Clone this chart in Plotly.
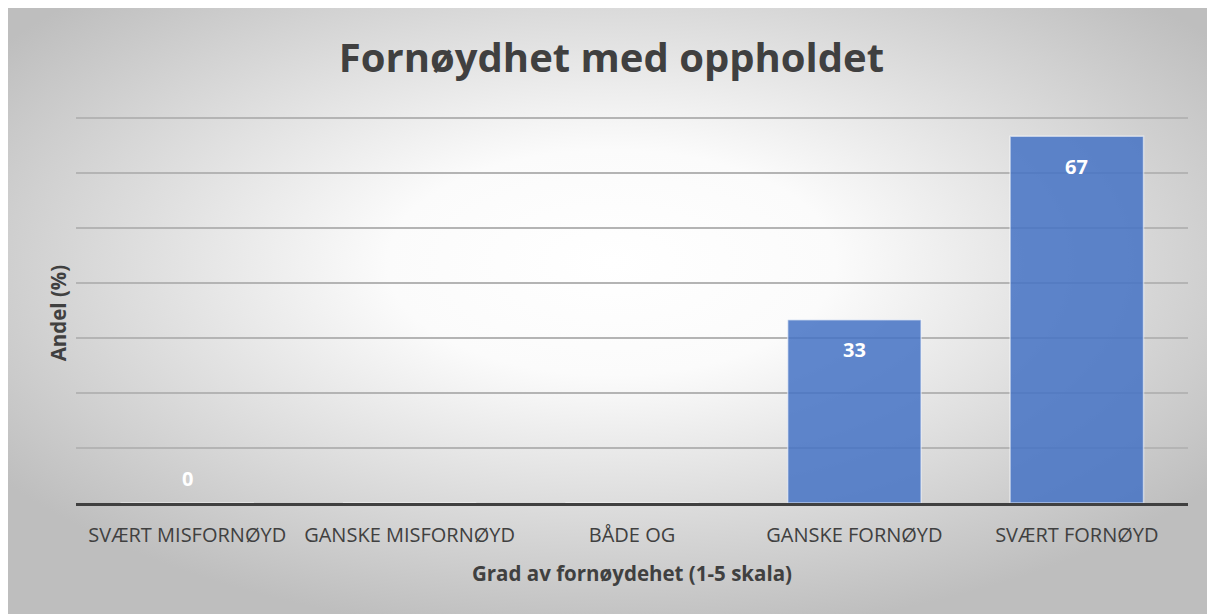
import base64
import plotly.graph_objects as go

# Data
categories = ['SVÆRT MISFORNØYD', 'GANSKE MISFORNØYD', 'BÅDE OG',
              'GANSKE FORNØYD', 'SVÆRT FORNØYD']
shares = [0, 0, 0, 33.33, 66.67]
labels = ['0', '', '', '33', '67']

title = 'Fornøydhet med oppholdet'
x_title = 'Grad av fornøydehet (1-5 skala)'
y_title = 'Andel (%)'

FONT = 'Open Sans'
TXT = '#404040'

# page body has an 8px margin, so the figure is a bit smaller than the window
W, H = 1207, 606
ml, mr, mt, mb = 68, 27, 108, 111
pw, ph = W - ml - mr, H - mt - mb

# Radial gradient background for the chart panel (Excel style)
svg = (
    '<svg xmlns="http://www.w3.org/2000/svg" width="%d" height="%d" '
    'preserveAspectRatio="none" viewBox="0 0 %d %d">'
    '<defs><radialGradient id="g" cx="0.5" cy="0.42" r="0.62">'
    '<stop offset="0" stop-color="#ffffff"/>'
    '<stop offset="0.3" stop-color="#fbfbfb"/>'
    '<stop offset="1" stop-color="#bebebe"/>'
    '</radialGradient></defs>'
    '<rect width="%d" height="%d" fill="url(#g)"/></svg>'
) % (W, H, W, H, W, H)
bg_src = 'data:image/svg+xml;base64,' + base64.b64encode(svg.encode()).decode()

fig = go.Figure()
fig.add_trace(go.Bar(
    x=categories, y=shares,
    width=0.6,
    marker=dict(color='rgba(68,114,196,0.85)',
                line=dict(color='rgba(255,255,255,0.55)', width=1.5)),
    hoverinfo='skip',
))

# data labels, inside end (zero label sits just above the baseline)
for cat, v, lab in zip(categories, shares, labels):
    if not lab:
        continue
    fig.add_annotation(
        x=cat, y=v, text='<b>%s</b>' % lab, showarrow=False,
        yshift=-30 if v > 0 else 25,
        font=dict(family=FONT, size=20, color='white'),
    )

# y axis title, placed a little closer to the plot than plotly would
fig.add_annotation(
    xref='paper', yref='paper', x=-18 / pw, y=0.49,
    xanchor='center', yanchor='middle',
    text='<b>%s</b>' % y_title, textangle=-90, showarrow=False,
    font=dict(family=FONT, size=20.5, color=TXT),
)

fig.update_layout(
    width=W, height=H,
    margin=dict(l=ml, r=mr, t=mt, b=mb),
    paper_bgcolor='#c8c8c8',
    plot_bgcolor='rgba(0,0,0,0)',
    showlegend=False,
    title=dict(text='<b>%s</b>' % title, x=0.5, xanchor='center',
               y=1 - 50 / H, yanchor='middle',
               font=dict(family=FONT, size=40, color=TXT)),
    xaxis=dict(
        tickfont=dict(family=FONT, size=20, color=TXT),
        ticklabelstandoff=12,
        title=dict(text='<b>%s</b>' % x_title, standoff=20,
                   font=dict(family=FONT, size=20.5, color=TXT)),
        showline=True, linecolor=TXT, linewidth=3,
        ticks='', showgrid=False,
    ),
    yaxis=dict(
        range=[0, 70.35], tick0=0, dtick=10, showticklabels=False,
        gridcolor='#b4b4b4', gridwidth=1.5, zeroline=False,
    ),
    images=[dict(
        source=bg_src, xref='paper', yref='paper',
        x=-ml / pw, y=1 + mt / ph,
        sizex=W / pw, sizey=H / ph,
        xanchor='left', yanchor='top', sizing='stretch', layer='below',
    )],
)

fig.write_html('out.html')
